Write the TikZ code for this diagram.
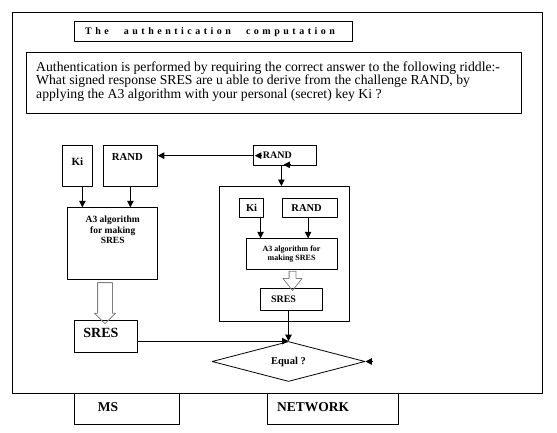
\documentclass[tikz,border=0pt]{standalone}
\usepackage{fontspec}
\setmainfont{Liberation Serif}
\newfontfamily\spacedfont[LetterSpace=35,WordSpace=2.5]{Liberation Serif}
\usetikzlibrary{arrows.meta}
\usetikzlibrary{shapes.geometric,shapes.arrows}
\usetikzlibrary{positioning}
\begin{document}
\begin{tikzpicture}[line join=round,>={Triangle[length=6.5pt,width=6.5pt]},x=1pt,y=-1pt,
  box/.style={draw,line width=0.8pt,inner sep=0pt,anchor=north west},
  lbl/.style={inner sep=0pt,font=\bfseries\fontsize{#1}{#1}\selectfont},
  conn/.style={->,line width=0.8pt},
  hollow/.style={single arrow,draw=gray,line width=0.8pt,minimum width=0pt,shape border rotate=270}]
\useasboundingbox (0,0) rectangle (557,433);
\draw[line width=0.8pt] (12,12) rectangle (542,393);
% heading and riddle
\node[box,minimum width=278pt,minimum height=20pt] (ttl) at (74,21.5) {};
\node[anchor=west,inner sep=0pt,font=\spacedfont\bfseries\fontsize{10}{10}\selectfont] (ttltxt) at ([xshift=11pt]ttl.west) {The authentication computation};
\node[box,minimum width=495pt,minimum height=61.5pt] (riddlebox) at (26,52) {};
\node[anchor=north west,inner sep=0pt,align=left,font=\fontsize{13.7}{12.4}\selectfont] (riddle) at ([xshift=10pt,yshift=-9.5pt]riddlebox.north west) {Authentication is performed by requiring the correct answer to the following riddle:-\\What signed response SRES are u able to derive from the challenge RAND, by\\applying the A3 algorithm with your personal (secret) key Ki ?};
% MS side
\node[box,minimum width=30pt,minimum height=40.5pt] (kiL) at (62,145) {};
\node[lbl=11] (kiLt) at ([yshift=-17pt]kiL.north) {Ki};
\node[box,minimum width=54pt,minimum height=40.5pt] (randL) at (103,145) {};
\node[lbl=10.7] (randLt) at ([xshift=-3pt,yshift=-12pt]randL.north) {RAND};
\node[box,minimum width=90pt,minimum height=71.7pt] (a3L) at (67.3,207.3) {};
\node[inner sep=0pt,anchor=north,align=center,font=\bfseries\fontsize{9.5}{10.5}\selectfont] (a3Lt) at ([yshift=-8.5pt]a3L.north) {A3 algorithm\\for making\\SRES};
\node[box,minimum width=63pt,minimum height=32pt] (sresL) at (74,320) {};
\node[lbl=14] (sresLt) at ([xshift=-5pt,yshift=-13pt]sresL.north) {SRES};
\node[hollow,inner sep=7pt,single arrow head extend=3.15pt,single arrow tip angle=91,minimum height=41pt] (hL) at (105,299.5) {};
% network side
\node[box,minimum width=62.4pt,minimum height=20.5pt] (randR) at (253.3,145) {};
\node[lbl=10] (randRt) at ([xshift=-7.5pt]randR.center) {RAND};
\node[box,minimum width=130pt,minimum height=135pt] (net) at (219.3,186) {};
\node[box,minimum width=24.3pt,minimum height=19pt] (kiR) at (239,198.3) {};
\node[lbl=10.5] (kiRt) at (kiR.center) {Ki};
\node[box,minimum width=55pt,minimum height=19pt] (randR2) at (281.7,198.3) {};
\node[lbl=10.5] (randR2t) at ([xshift=-3pt]randR2.center) {RAND};
\node[box,minimum width=91pt,minimum height=30.7pt] (a3R) at (245.7,238.3) {};
\node[inner sep=0pt,align=center,font=\bfseries\fontsize{8}{9.4}\selectfont] (a3Rt) at (a3R.center) {A3 algorithm for\\making SRES};
\node[box,minimum width=62.3pt,minimum height=21.7pt] (sresR) at (260,288.3) {};
\node[lbl=10] (sresRt) at ([xshift=-8pt]sresR.center) {SRES};
\node[hollow,inner sep=3pt,single arrow head extend=6.2pt,single arrow tip angle=77,minimum height=19.3pt] (hR) at (292.5,278.7) {};
\node[draw,diamond,aspect=3.8,minimum width=153pt,minimum height=40pt,inner sep=0pt,line width=0.8pt,font=\bfseries\fontsize{10.5}{10.5}\selectfont] (eq) at (288.5,361.5) {Equal ?};
% bottom labels
\node[box,minimum width=105pt,minimum height=31pt] (ms) at (74,393) {};
\node[lbl=13.5] (mst) at ([xshift=-19pt,yshift=2pt]ms.center) {MS};
\node[box,minimum width=131pt,minimum height=31pt] (network) at (267.3,393) {};
\node[lbl=13.5] (networkt) at ([xshift=-20pt,yshift=2pt]network.center) {NETWORK};
% connectors
\draw[conn] ([xshift=5pt]kiL.south) -- ([xshift=5pt]kiL.south |- a3L.north);
\draw[conn] (randL.south) -- (randL.south |- a3L.north);
\draw[conn] (randR.west) -- (randR.west -| randL.east);
\draw[conn] ([xshift=8pt]randR.west) -- ([xshift=1.5pt]randR.west);
\draw[conn] ([xshift=5pt,yshift=1.5pt]randR.south) -- ([xshift=-1.5pt,yshift=1.5pt]randR.south);
\draw[conn] ([xshift=-3.5pt]randR.south) -- ([xshift=-3.5pt]randR.south |- net.north);
\draw[conn] ([xshift=9pt]kiR.south) -- ([xshift=9pt]kiR.south |- a3R.north);
\draw[conn] ([xshift=-1.5pt]randR2.south) -- ([xshift=-1.5pt]randR2.south |- a3R.north);
\draw[conn] (eq.north |- sresR.south) -- (eq.north);
\draw[conn] (sresL.east |- eq.north) -- (eq.north);
\draw[conn] ([xshift=8pt]eq.east) -- (eq.east);
\end{tikzpicture}
\end{document}
